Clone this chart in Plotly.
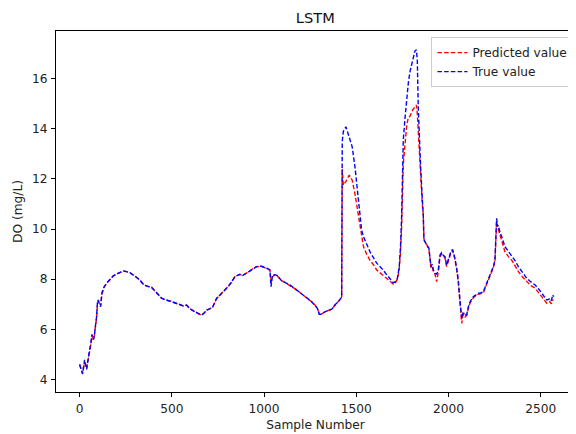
import plotly.graph_objects as go

sample = [0, 8, 16, 27, 38, 48, 56, 62, 67, 72, 78, 85, 92, 97, 101, 108, 114, 121, 133, 146,
          165, 182, 205, 236, 255, 273, 300, 327, 345, 363, 390, 420, 445, 472, 495, 517, 540,
          562, 580, 598, 620, 643, 661, 675, 689, 705, 721, 743, 760, 779, 806, 825, 842, 869,
          884, 896, 924, 945, 960, 987, 1005, 1017, 1032, 1038, 1046, 1060, 1072, 1095, 1118,
          1140, 1160, 1177, 1195, 1213, 1235, 1258, 1275, 1289, 1299, 1310, 1330, 1350, 1367,
          1385, 1400, 1417, 1421, 1424, 1430, 1444, 1462, 1478, 1493, 1502, 1511, 1520, 1529,
          1539, 1556, 1574, 1601, 1610, 1638, 1656, 1683, 1701, 1712, 1723, 1733, 1740, 1746,
          1755, 1764, 1773, 1782, 1791, 1806, 1818, 1826, 1831, 1836, 1842, 1849, 1858, 1863,
          1867, 1875, 1882, 1894, 1905, 1912, 1918, 1927, 1936, 1945, 1954, 1963, 1972, 1981,
          1990, 2004, 2013, 2022, 2035, 2045, 2053, 2062, 2072, 2078, 2084, 2090, 2099, 2108,
          2117, 2134, 2150, 2162, 2175, 2189, 2207, 2225, 2243, 2252, 2258, 2261, 2266, 2270,
          2280, 2289, 2306, 2325, 2343, 2360, 2379, 2400, 2425, 2445, 2470, 2490, 2506, 2520,
          2533, 2545, 2550, 2558, 2565, 2570]

true_value = [4.6, 4.4, 4.22, 4.78, 4.4, 4.9, 5.18, 5.5, 5.8, 5.6, 5.65, 6.1, 6.5, 7.1, 7.17, 7.0,
              6.9, 7.46, 7.7, 7.84, 8.0, 8.13, 8.22, 8.33, 8.3, 8.26, 8.12, 7.97, 7.8, 7.73, 7.68,
              7.45, 7.24, 7.17, 7.12, 7.06, 7.0, 6.93, 6.97, 6.82, 6.72, 6.62, 6.56, 6.65, 6.77,
              6.82, 6.88, 7.24, 7.35, 7.5, 7.7, 7.9, 8.1, 8.2, 8.15, 8.2, 8.34, 8.45, 8.5, 8.52,
              8.48, 8.43, 8.37, 7.7, 8.17, 8.18, 8.14, 7.94, 7.85, 7.77, 7.66, 7.57, 7.47, 7.37,
              7.24, 7.1, 6.98, 6.84, 6.6, 6.6, 6.7, 6.74, 6.8, 6.98, 7.08, 7.24, 7.35, 13.5, 13.9,
              14.08, 13.6, 13.28, 12.48, 11.9, 11.29, 10.6, 9.96, 9.7, 9.43, 9.1, 8.76, 8.65, 8.43,
              8.25, 8.03, 7.85, 7.9, 8.03, 8.5, 9.3, 10.5, 13.55, 14.4, 15.14, 15.8, 16.27, 16.74,
              17.1, 17.15, 16.74, 14.9, 13.5, 12.48, 11.2, 10.63, 9.56, 9.45, 9.4, 9.23, 8.5, 8.6,
              8.37, 8.23, 8.2, 8.37, 8.96, 9.06, 8.95, 8.9, 8.57, 8.96, 9.1, 9.19, 8.83, 8.4, 7.97,
              7.17, 6.44, 6.65, 6.64, 6.55, 6.6, 6.9, 7.1, 7.3, 7.4, 7.44, 7.45, 7.5, 7.84, 8.17,
              8.5, 8.76, 9.8, 10.43, 10.1, 10.16, 9.85, 9.69, 9.3, 9.1, 8.96, 8.75, 8.5, 8.3, 8.03,
              7.9, 7.77, 7.6, 7.44, 7.3, 7.17, 7.2, 7.24, 7.15, 7.37, 7.3]

predicted_value = [4.6, 4.45, 4.25, 4.7, 4.45, 4.85, 5.15, 5.45, 5.75, 5.65, 5.6, 6.05, 6.45, 7.05,
                   7.15, 7.05, 6.95, 7.4, 7.68, 7.82, 8.0, 8.12, 8.22, 8.32, 8.3, 8.25, 8.12, 7.96,
                   7.8, 7.72, 7.67, 7.45, 7.23, 7.16, 7.12, 7.05, 7.0, 6.93, 6.96, 6.82, 6.72, 6.62,
                   6.56, 6.65, 6.77, 6.82, 6.88, 7.22, 7.35, 7.5, 7.7, 7.88, 8.1, 8.18, 8.15, 8.2,
                   8.33, 8.45, 8.5, 8.5, 8.47, 8.42, 8.36, 7.85, 8.1, 8.17, 8.13, 7.94, 7.85, 7.76,
                   7.65, 7.57, 7.47, 7.36, 7.24, 7.1, 6.98, 6.85, 6.62, 6.6, 6.7, 6.74, 6.8, 6.97,
                   7.07, 7.22, 7.3, 12.4, 11.75, 11.9, 12.15, 11.95, 11.4, 11.0, 10.55, 10.1, 9.75,
                   9.3, 9.0, 8.76, 8.5, 8.37, 8.2, 8.1, 7.92, 7.8, 7.85, 8.0, 8.4, 9.1, 10.1, 12.6,
                   13.5, 14.1, 14.45, 14.5, 14.75, 14.9, 14.95, 14.6, 13.9, 12.9, 12.0, 11.0, 10.6,
                   9.6, 9.45, 9.38, 9.2, 8.45, 8.5, 8.3, 8.2, 7.9, 8.3, 8.9, 9.0, 8.9, 8.85, 8.5, 8.9,
                   9.05, 9.15, 8.8, 8.35, 7.9, 7.1, 6.24, 6.55, 6.6, 6.5, 6.55, 6.85, 7.05, 7.25,
                   7.36, 7.4, 7.42, 7.45, 7.8, 8.12, 8.45, 8.7, 9.6, 10.3, 10.05, 10.0, 9.75, 9.5,
                   9.1, 8.9, 8.76, 8.55, 8.3, 8.1, 7.9, 7.75, 7.64, 7.45, 7.3, 7.17, 7.04, 7.05, 7.1,
                   7.02, 7.17, 7.15]

x_ticks = [0, 500, 1000, 1500, 2000, 2500]
y_ticks = [4, 6, 8, 10, 12, 14, 16]

font = "DejaVu Sans"
fs = 12.2

fig = go.Figure()
fig.add_trace(go.Scatter(x=sample, y=predicted_value, mode="lines", name="Predicted value",
                         line=dict(color="#ff0000", width=1.4, dash="4.5px,2.2px")))
fig.add_trace(go.Scatter(x=sample, y=true_value, mode="lines", name="True value",
                         line=dict(color="#0000ff", width=1.4, dash="4.5px,2.2px")))

axis_common = dict(showline=True, linecolor="black", linewidth=1, mirror=True,
                   ticks="outside", ticklen=4, tickwidth=1, tickcolor="black",
                   showgrid=False, zeroline=False, automargin=False, ticklabelstandoff=1,
                   tickfont=dict(family=font, size=fs, color="#222"))

# the page body has an 8px default margin, so the figure is sized to fit the window
fig.update_layout(
    width=568, height=426,
    margin=dict(l=48, r=1, t=23, b=42, autoexpand=False),
    paper_bgcolor="white", plot_bgcolor="white",
    font=dict(family=font, size=fs, color="#222"),
    title=dict(text="LSTM", x=0.541, xanchor="center", y=0.9765, yanchor="middle",
               font=dict(family=font, size=14.6, color="#111")),
    xaxis=dict(range=[-128, 2686], tickvals=x_ticks,
               title=dict(text="Sample Number", standoff=5, font=dict(family=font, size=fs)),
               **axis_common),
    yaxis=dict(range=[3.5, 17.9], tickvals=y_ticks,
               title=dict(text="DO (mg/L)", standoff=6, font=dict(family=font, size=fs)),
               **axis_common),
    legend=dict(x=0.997, y=0.983, xanchor="right", yanchor="top",
                bgcolor="rgba(255,255,255,0.8)", bordercolor="#cccccc", borderwidth=1,
                font=dict(family=font, size=fs, color="#222"), tracegroupgap=0),
    showlegend=True,
)

fig.write_html("out.html")
